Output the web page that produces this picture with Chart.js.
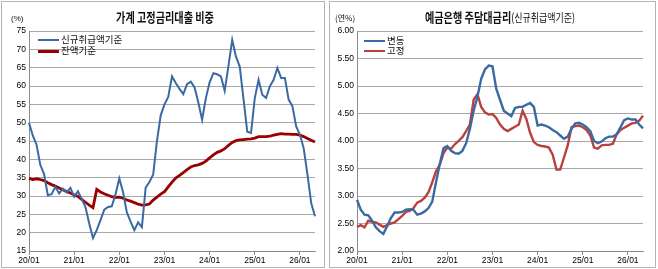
<!DOCTYPE html>
<html>
<head>
<meta charset="utf-8">
<script src="https://cdn.jsdelivr.net/npm/chart.js@4.4.1/dist/chart.umd.min.js"></script>
<style>
  body { margin: 0; width: 658px; height: 269px; background: #fff; position: relative; overflow: hidden;
         font-family: "Noto Sans CJK KR", sans-serif; color: #111; }
  .frame { position: absolute; top: 1px; height: 265px; border: 1px solid #b4b4b4; }
  .wrap { position: absolute; top: 0; height: 269px; }
  .title { position: absolute; top: 7px; white-space: nowrap; font-size: 13px; font-weight: bold;
           transform: translateX(-50%) scaleX(0.78); transform-origin: center; }
  .title small { font-size: 11.5px; font-weight: normal; }
  .unit { position: absolute; top: 14px; font-size: 8px; font-family: "Liberation Sans", sans-serif; }
  .unit.kr { font-family: "Noto Sans CJK KR", sans-serif; }
  .leg { position: absolute; font-size: 9.5px; line-height: 11px; white-space: nowrap; }
  .leg span { display: inline-block; width: 21px; vertical-align: middle; margin-right: 2px; }
</style>
</head>
<body>
<div class="frame" style="left:1px;width:322px"></div>
<div class="frame" style="left:329px;width:325px"></div>

<div class="wrap" style="left:0;width:326px"><canvas id="c1" width="326" height="269"></canvas></div>
<div class="wrap" style="left:328px;width:330px"><canvas id="c2" width="330" height="269"></canvas></div>

<div class="title" style="left:165px">가계 고정금리대출 비중</div>
<div class="unit" style="left:11px">(%)</div>
<div class="leg" style="left:38px;top:34px"><span style="border-top:2px solid #3b6aa3"></span>신규취급액기준</div>
<div class="leg" style="left:38px;top:45px"><span style="border-top:3px solid #9a0000"></span>잔액기준</div>

<div class="title" style="left:500px">예금은행 주담대금리<small>(신규취급액기준)</small></div>
<div class="unit kr" style="left:335px;top:12px">(연%)</div>
<div class="leg" style="left:364px;top:35px"><span style="border-top:2.5px solid #3b6aa3"></span>변동</div>
<div class="leg" style="left:364px;top:45px"><span style="border-top:2.5px solid #b8423f"></span>고정</div>

<script>
const months = [
  "20/01","20/02","20/03","20/04","20/05","20/06","20/07","20/08","20/09","20/10","20/11","20/12",
  "21/01","21/02","21/03","21/04","21/05","21/06","21/07","21/08","21/09","21/10","21/11","21/12",
  "22/01","22/02","22/03","22/04","22/05","22/06","22/07","22/08","22/09","22/10","22/11","22/12",
  "23/01","23/02","23/03","23/04","23/05","23/06","23/07","23/08","23/09","23/10","23/11","23/12",
  "24/01","24/02","24/03","24/04","24/05","24/06","24/07","24/08","24/09","24/10","24/11","24/12",
  "25/01","25/02","25/03","25/04","25/05","25/06","25/07","25/08","25/09","25/10","25/11","25/12",
  "26/01","26/02","26/03","26/04","26/05"
];

// 가계 고정금리대출 비중 (%)
const shareNew = [
  50, 46.5, 44, 38.5, 36, 30.2, 30.5, 32.5, 30.7, 32, 31, 32.2,
  29.8, 31.3, 29.2, 27, 22.5, 18.5, 20.7, 23.4, 26.3, 27, 27.2, 30.5,
  34.8, 31, 25.5, 23, 20.7, 22.8, 21.5, 32.3, 33.8, 35.9, 45, 52,
  55, 57, 62.6, 60.8, 59.2, 57.8, 60.5, 61.2, 59.6, 55.5, 50.8, 56.7,
  61, 63.5, 63.2, 62.6, 58.7, 65.5, 72.6, 68, 65.3, 56.5, 47.5, 47.2,
  56.7, 61.7, 57.6, 56.7, 59.9, 61.7, 64.9, 62.2, 62.2, 56.3, 54.5, 49,
  46.7, 43, 35.8, 28, 24.5
];
const shareBal = [
  34.8, 34.5, 34.7, 34.5, 34.2, 33.6, 33.1, 32.7, 32.2, 31.7, 31.2, 30.8,
  30.3, 29.9, 29.1, 28.3, 27.5, 26.8, 31.8, 31.1, 30.6, 30.2, 29.8, 29.6,
  29.7, 29.4, 28.9, 28.6, 28.2, 27.8, 27.5, 27.6, 27.8, 28.9, 29.7, 30.5,
  31.2, 32.5, 33.8, 34.9, 35.6, 36.4, 37.2, 37.9, 38.3, 38.5, 38.9, 39.5,
  40.4, 41.2, 41.9, 42.3, 42.9, 43.8, 44.6, 45.1, 45.3, 45.4, 45.5, 45.6,
  45.8, 46.2, 46.2, 46.2, 46.3, 46.6, 46.8, 47.0, 46.9, 46.9, 46.8, 46.8,
  46.6, 46.2, 45.7, 45.2, 44.7
];

// 예금은행 주담대금리 (연%)
const rateVar = [
  2.93, 2.75, 2.66, 2.65, 2.55, 2.43, 2.36, 2.31, 2.45, 2.60, 2.70, 2.70,
  2.71, 2.75, 2.76, 2.75, 2.66, 2.68, 2.72, 2.78, 2.90, 3.25, 3.58, 3.87,
  3.91, 3.82, 3.78, 3.77, 3.82, 3.96, 4.22, 4.55, 4.80, 5.13, 5.30, 5.37,
  5.36, 4.95, 4.75, 4.55, 4.50, 4.45, 4.60, 4.62, 4.62, 4.66, 4.69, 4.62,
  4.28, 4.30, 4.28, 4.25, 4.20, 4.16, 4.10, 4.04, 4.08, 4.22, 4.32, 4.33,
  4.30, 4.25, 4.18, 4.00, 3.96, 3.99, 4.05, 4.08, 4.08, 4.12, 4.25, 4.38,
  4.41, 4.39, 4.39, 4.30, 4.23
];
const rateFix = [
  2.44, 2.47, 2.43, 2.55, 2.53, 2.52, 2.48, 2.44, 2.47, 2.50, 2.52, 2.58,
  2.64, 2.71, 2.73, 2.78, 2.88, 2.91, 2.97, 3.07, 3.25, 3.45, 3.57, 3.78,
  3.88, 3.86, 3.94, 4.00, 4.07, 4.18, 4.30, 4.75, 4.85, 4.62, 4.52, 4.48,
  4.49, 4.42, 4.30, 4.22, 4.18, 4.22, 4.26, 4.30, 4.55, 4.40, 4.15, 3.98,
  3.93, 3.91, 3.90, 3.88, 3.75, 3.48, 3.48, 3.70, 3.92, 4.25, 4.27, 4.28,
  4.25, 4.20, 4.10, 3.88, 3.86, 3.92, 3.93, 3.93, 3.95, 4.12, 4.20, 4.24,
  4.28, 4.32, 4.33, 4.37, 4.46
];

const tickFont = { family: "Liberation Sans", size: 8.5 };

function makeChart(id, datasets, yMin, yMax, step, fmt, padRight) {
  return new Chart(document.getElementById(id), {
    type: "line",
    data: { labels: months, datasets: datasets },
    options: {
      responsive: false,
      animation: false,
      layout: { padding: { top: 31, right: padRight, left: 0, bottom: 0 } },
      elements: { point: { radius: 0 }, line: { tension: 0 } },
      plugins: { legend: { display: false }, tooltip: { enabled: false } },
      scales: {
        x: {
          grid: {
            drawOnChartArea: false,
            tickLength: 4,
            color: (c) => (c.index % 12 === 0 ? "#8c8c8c" : "rgba(0,0,0,0)")
          },
          border: { color: "#8c8c8c" },
          ticks: {
            autoSkip: false, maxRotation: 0, minRotation: 0, padding: 1,
            font: tickFont, color: "#000",
            callback: (v, i) => (i % 12 === 0 ? months[i] : "")
          },
          afterFit: (s) => { s.height = 18; }
        },
        y: {
          min: yMin, max: yMax,
          grid: { color: "#a8a8a8", drawTicks: false },
          border: { color: "#8c8c8c" },
          ticks: { stepSize: step, padding: 3, font: tickFont, color: "#000", callback: fmt },
          afterFit: (s) => { s.width = 29; }
        }
      }
    }
  });
}

makeChart("c1", [
  { label: "신규취급액기준", data: shareNew, borderColor: "#3b6aa3", borderWidth: 2 },
  { label: "잔액기준", data: shareBal, borderColor: "#9a0000", borderWidth: 2.8 }
], 15, 75, 5, (v) => v, 11);

makeChart("c2", [
  { label: "변동", data: rateVar, borderColor: "#3b6aa3", borderWidth: 2.4 },
  { label: "고정", data: rateFix, borderColor: "#b8423f", borderWidth: 2.4 }
], 2, 6, 0.5, (v) => v.toFixed(2), 15);
</script>
</body>
</html>
